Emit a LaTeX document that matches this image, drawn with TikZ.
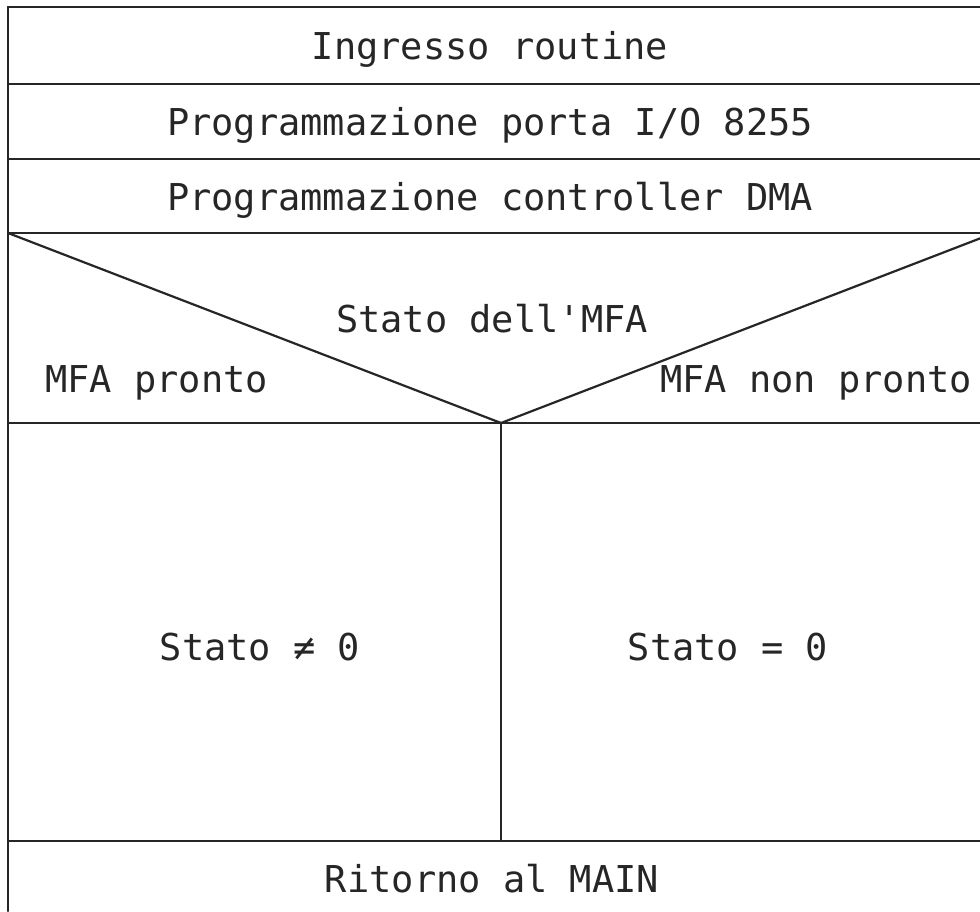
\documentclass[tikz,border=0pt]{standalone}
\usepackage{fontspec}
\setmonofont{DejaVu Sans Mono}
\usetikzlibrary{positioning}

\begin{document}
\begin{tikzpicture}[
x=1pt, y=-1pt,
lbl/.style={inner sep=0pt, font=\ttfamily\fontsize{37}{40}\selectfont,
text height=28pt, text depth=0pt, black!85},
rule/.style={line width=2.2pt, black!85, line cap=round}
]
\useasboundingbox (0,0) rectangle (980,911);
\clip (0,0) rectangle (980,911);

% frame corners of the structogram
\coordinate (tl) at (8,7);
\coordinate (tr) at (994,7);
\coordinate (bl) at (8,911);
\coordinate (vtx) at (501,423);
\coordinate (mid) at (501,841);

% sequence blocks
\node[lbl] (ingr) at (490,45) {Ingresso routine};
\node[lbl] (porta) at (490,121) {Programmazione porta I/O 8255};
\node[lbl] (dma) at (490,196) {Programmazione controller DMA};

% decision
\node[lbl] (cond) at (492,318) {Stato dell'MFA};
\node[lbl, anchor=west] (yes) at (45,378) {MFA pronto};
\node[lbl, anchor=west] (no) at (660,378) {MFA non pronto};

% branches
\node[lbl] (neq) at (260,646) {Stato ≠ 0};
\node[lbl] (eq) at (728,646) {Stato = 0};

\node[lbl] (ret) at (492,878) {Ritorno al MAIN};

\draw[rule] (tl) -- (bl);
\draw[rule] (tl) -- (tr);
\draw[rule] (8,84) -- (994,84);
\draw[rule] (8,159) -- (994,159);
\draw[rule] (8,233) -- (994,233);
\draw[rule] (8,233) -- (vtx) -- (994,233);
\draw[rule] (8,423) -- (994,423);
\draw[rule] (vtx) -- (mid);
\draw[rule] (8,841) -- (994,841);
\end{tikzpicture}
\end{document}
